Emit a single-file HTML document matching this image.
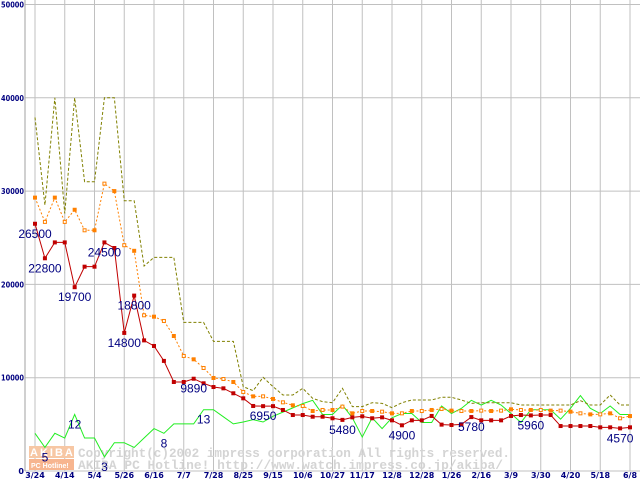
<!DOCTYPE html>
<html><head><meta charset="utf-8"><style>
html,body{margin:0;padding:0;background:#fff;}
svg{display:block;}
.tk{font-family:"DejaVu Sans","Liberation Sans",sans-serif;font-size:8px;font-weight:bold;fill:#000080;}
.lb{font-family:"Liberation Sans",sans-serif;font-size:12px;fill:#000080;}
.wm{font-family:"Liberation Mono",monospace;font-size:13px;font-weight:bold;fill:#d4d4d4;}
</style></head><body>
<svg id="chart" width="640" height="480" viewBox="0 0 640 480">
<g id="grid"></g>
<g id="wmark">
<rect x="29" y="446" width="45" height="12" fill="#f7c7a4"/>
<rect x="29" y="459" width="45" height="11" fill="#f7b58f"/>
<text x="30" y="456" font-family="Liberation Sans,sans-serif" font-size="11" font-weight="bold" fill="#fff" letter-spacing="2">AKIBA</text>
<text x="31" y="468" font-family="Liberation Sans,sans-serif" font-size="7" font-weight="bold" fill="#fff">PC Hotline!</text>
<text class="wm" x="78" y="457" textLength="432" lengthAdjust="spacingAndGlyphs">Copyright(c)2002 impress corporation All rights reserved.</text>
<text class="wm" x="78" y="469" textLength="425" lengthAdjust="spacingAndGlyphs">AKIBA PC Hotline!  http://www.watch.impress.co.jp/akiba/</text>
</g>
<g id="series"></g>
<g id="labels"></g>
</svg>
<script>
const xLabels=["3/24","4/14","5/4","5/26","6/16","7/7","7/28","8/25","9/15","10/6","10/27","11/17","12/8","12/28","1/26","2/16","3/9","3/30","4/20","5/18","6/8"];
const yTicks=[0,10000,20000,30000,40000,50000];
const lowPrice=[26500,22800,24500,24500,19700,21900,21900,24500,23900,14800,18800,14000,13400,11800,9540,9540,9890,9400,9000,8860,8330,7790,6970,6950,6950,6540,6000,6000,5820,5820,5650,5480,5750,5860,5650,5750,5430,4900,5430,5430,5900,4970,4930,5000,5780,5430,5430,5430,5900,6000,5960,6000,6000,4820,4820,4820,4820,4680,4680,4570,4680];
const avgPrice=[29300,26700,29300,26700,28000,25800,25800,30800,30000,24200,23600,16690,16540,16080,14470,12330,11970,11040,9970,9860,9540,8470,8000,8000,7720,7360,7040,6970,6430,6540,6540,6900,6180,6430,6430,6360,6180,6180,6430,6430,6540,6650,6470,6430,6430,6470,6430,6470,6610,6540,6540,6540,6470,6470,6360,6180,6070,6070,6180,5650,5890];
const highPrice=[37900,28500,40000,27600,40000,31000,31000,40000,40000,28970,28970,21970,22900,22900,22900,15930,15930,15930,13900,13900,13900,9040,8610,10040,9040,8150,8150,8860,7790,7430,7320,8860,6900,6900,7320,7250,6790,7320,7610,7610,7610,7900,7900,7610,7250,7320,7320,7320,7320,7070,7070,7070,7070,7070,7070,7540,7070,7070,8150,7070,7070];
const shopCount=[8,5,8,7,12,7,7,3,6,6,5,7,9,8,10,10,10,13,13,11.5,10,10.4,10.9,10.4,11.6,12.5,13.4,14.3,15,12,12,14,11.3,7.2,11.3,9,11.3,12.2,12.2,10.3,10.3,13.8,12.2,13.3,15,14,15,14,12.2,10.3,13,13,13,11,13.3,16,13.3,12.2,13.8,12,12];
const priceLabelIdx=[0,1,4,7,10,9,16,23,31,37,44,50,59];
const countLabelIdx=[1,4,7,13,17];
const countLabels=[5,12,3,8,13];
const COUNT_UNIT=505;
const NS="http://www.w3.org/2000/svg";
const xPos=i=>35+i*(595/60);
const yPos=v=>471-v*0.00933;
function mk(tag,attrs,parent){const e=document.createElementNS(NS,tag);for(const k in attrs)e.setAttribute(k,attrs[k]);parent.appendChild(e);return e;}
const grid=document.getElementById('grid');
yTicks.forEach(t=>{
  const l=mk('line',{x1:25,x2:640,y1:yPos(t),y2:yPos(t),stroke:'#c0c0c0','stroke-width':1},grid);
  
  
  const s=String(t);
  const a={x:24,y:yPos(t)+3,'text-anchor':'end',class:'tk'};
  if(s.length>1){a.x=1;a['text-anchor']='start';a.textLength=s.length*4.6;a.lengthAdjust='spacingAndGlyphs';}
  const tx=mk('text',a,grid);
  tx.textContent=s;
  
  
});
xLabels.forEach((s,k)=>{
  const x=xPos(k*3);
  const l=mk('line',{x1:x,x2:x,y1:0,y2:471,stroke:'#c0c0c0','stroke-width':1},grid);
  
  
  const tx=mk('text',{x:x,y:478,'text-anchor':'middle',class:'tk'},grid);
  tx.textContent=s;
  
  
});
const ax=mk('line',{x1:25,x2:25,y1:0,y2:471,stroke:'#a0a0a0'},grid);


const S=document.getElementById('series');
function line(vals,f,color,dash,name){
  const p=mk('polyline',{points:vals.map((v,i)=>xPos(i)+','+yPos(f(v))).join(' '),fill:'none',stroke:color,'stroke-width':1,'stroke-dasharray':dash},S);
  
  
}
line(shopCount,v=>v*COUNT_UNIT,'#22ee22','','shop-count-line');
line(highPrice,v=>v,'#808000','3,2','high-price-line');
line(avgPrice,v=>v,'#ff8000','2,2','avg-price-line');
line(lowPrice,v=>v,'#c00000','','low-price-line');
avgPrice.forEach((v,i)=>{
  const r=mk('rect',{x:xPos(i)-1.5,y:yPos(v)-1.5,width:3,height:3,fill:(i%2?'#fff':'#ff8000'),stroke:'#ff8000','stroke-width':1},S);
  
  
});
lowPrice.forEach((v,i)=>{
  const r=mk('rect',{x:xPos(i)-2,y:yPos(v)-2,width:4,height:4,fill:'#c00000'},S);
  
  
});
const L=document.getElementById('labels');
priceLabelIdx.forEach(i=>{
  const t=mk('text',{x:xPos(i),y:yPos(lowPrice[i])+14,'text-anchor':'middle',class:'lb'},L);
  t.textContent=lowPrice[i];
  
  
});
countLabelIdx.forEach((i,k)=>{
  const t=mk('text',{x:xPos(i),y:yPos(shopCount[i]*COUNT_UNIT)+14,'text-anchor':'middle',class:'lb'},L);
  t.textContent=countLabels[k];
  
  
});
</script>
</body></html>
